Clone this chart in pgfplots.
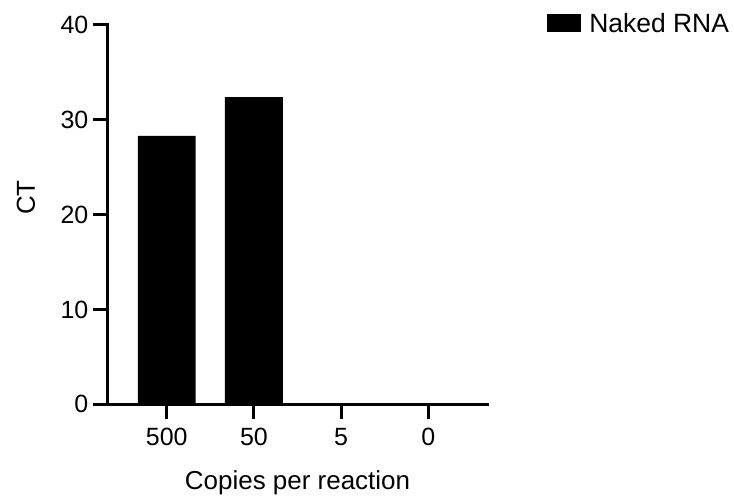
\documentclass[border=0pt]{standalone}
\usepackage{fontspec}
\setmainfont{Liberation Sans}
\usepackage{pgfplots}
\pgfplotsset{compat=1.18}
\begin{document}
\begin{tikzpicture}
\begin{axis}[
  name=plot,
  scale only axis,
  width=380pt, height=380pt,
  xmin=-0.675, xmax=3.675,
  ymin=0, ymax=40,
  axis lines=left,
  axis line style={line width=3pt, -, line cap=rect},
  xtick={0,1,2,3},
  xticklabels={500,50,5,0},
  ytick={0,10,20,30,40},
  minor tick num=0,
  tick align=outside,
  major tick length=15pt,
  tick style={line width=3pt, black},
  /pgf/number format/assume math mode=true,
  ticklabel style={font=\fontsize{25}{28}\selectfont},
  xticklabel style={yshift=-5pt},
  yticklabel style={xshift=-1pt},
  xlabel={Copies per reaction},
  ylabel={CT},
  label style={font=\fontsize{26}{30}\selectfont},
  xlabel style={at={(axis description cs:0.5,-0.2237)}, anchor=base},
  ylabel style={at={(axis description cs:-0.1921,0.545)}, anchor=base},
  ybar, bar width=58pt,
  legend style={at={(axis description cs:1,1)}, anchor=north west, xshift=57pt, yshift=16pt,
    draw=none, fill=none, font=\fontsize{26.5}{30}\selectfont},
  legend image code/.code={\fill[black] (0pt,-8.5pt) rectangle (34pt,9.5pt); \path (40pt,0pt);},
]
\addplot[fill=black, draw=none] coordinates {(0,28.3) (1,32.4) (2,0) (3,0)};
\addlegendentry{Naked RNA}
\end{axis}
\path (plot.south west) ++(-108pt,-90pt) rectangle ++(734pt,495pt);
\end{tikzpicture}
\end{document}
